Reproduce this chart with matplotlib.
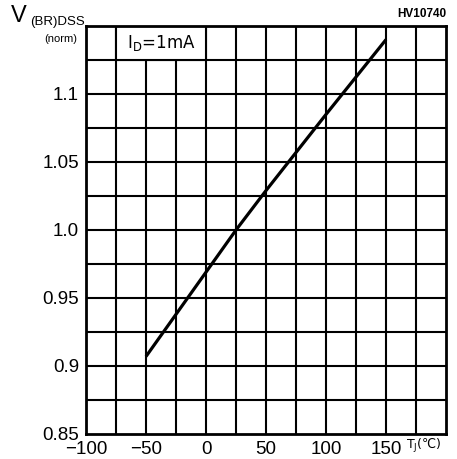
import numpy as np
import matplotlib
matplotlib.use("Agg")
import matplotlib.pyplot as plt
from matplotlib.patches import Rectangle

temp_c = [-50, 0, 25, 50, 100, 150]
vbr_norm = [0.907, 0.969, 1.000, 1.029, 1.085, 1.140]

x_ticks = [-100, -50, 0, 50, 100, 150]
x_ticklabels = ["\u2212100", "\u221250", "0", "50", "100", "150"]
y_ticks = [0.85, 0.9, 0.95, 1.0, 1.05, 1.1]
y_ticklabels = ["0.85", "0.9", "0.95", "1.0", "1.05", "1.1"]

W, H = 457, 459
fig = plt.figure(figsize=(W / 100, H / 100), dpi=100)
ax = fig.add_axes([86 / W, (H - 434) / H, 360 / W, 408 / H])
ax.set_xlim(-100, 200)
ax.set_ylim(0.85, 1.15)

# Raster alle 25 °C bzw. 0.025
for gx in np.arange(-75, 200, 25):
    ax.axvline(gx, color="black", lw=1.5, zorder=1)
for gy in np.arange(0.875, 1.15, 0.025):
    ax.axhline(gy, color="black", lw=1.5, zorder=1)

# Beschriftungsfeld oben links
ax.add_patch(Rectangle((-75, 1.125), 75, 0.025, facecolor="white",
                       edgecolor="black", lw=1.5, zorder=2))
ax.text(-37.5, 1.1375, r"I$_{\mathrm{D}}$=1mA", ha="center", va="center",
        fontsize=12, family="DejaVu Sans", zorder=3)

ax.plot(temp_c, vbr_norm, color="black", lw=2.3, zorder=4,
        solid_capstyle="butt")

for s in ax.spines.values():
    s.set_linewidth(2)
    s.set_zorder(5)

ax.set_xticks(x_ticks)
ax.set_xticklabels(x_ticklabels)
ax.set_yticks(y_ticks)
ax.set_yticklabels(y_ticklabels)
ax.tick_params(length=0, pad=5, labelsize=13.5)
for lbl in ax.get_xticklabels() + ax.get_yticklabels():
    lbl.set_family("Liberation Sans")
    lbl.set_fontweight("medium")

fig.text(446 / W, 1 - 14 / H, "HV10740", ha="right", va="center",
         fontsize=8.5, fontweight="bold", family="Liberation Sans")
fig.text(11 / W, 1 - 16 / H, "V", ha="left", va="center",
         fontsize=17, family="Liberation Sans")
fig.text(30 / W, 1 - 22 / H, "(BR)DSS", ha="left", va="center",
         fontsize=9.5, family="Liberation Sans")
fig.text(77 / W, 1 - 39 / H, "(norm)", ha="right", va="center",
         fontsize=8, family="Liberation Sans")
fig.text(406 / W, 1 - 446 / H, "T$_\\mathrm{J}$(\u2103)", ha="left", va="center",
         fontsize=9, family="DejaVu Sans")

fig.savefig("out.png", dpi=100)
